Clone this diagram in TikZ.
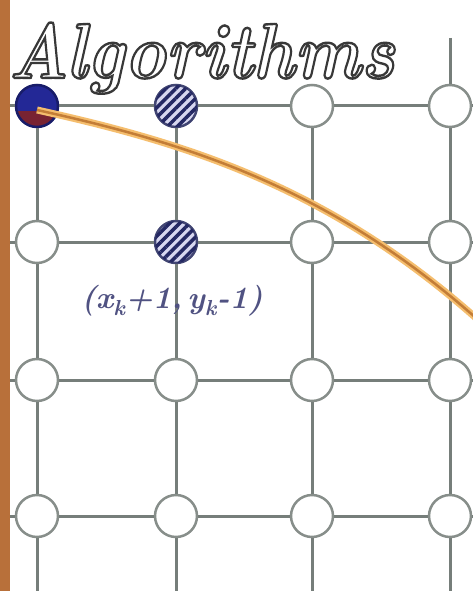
\documentclass[tikz,border=0pt]{standalone}
\usepackage{fontspec}
\usetikzlibrary{patterns.meta}
\definecolor{gridc}{RGB}{118,126,122}
\definecolor{ringc}{RGB}{135,142,138}
\definecolor{barc}{RGB}{184,112,58}
\definecolor{curveo}{RGB}{245,190,110}
\definecolor{curvei}{RGB}{195,125,55}
\definecolor{navy}{RGB}{40,45,110}
\definecolor{lav}{RGB}{215,215,240}
\definecolor{dotblue}{RGB}{35,40,150}
\definecolor{dotred}{RGB}{120,35,50}
\definecolor{labc}{RGB}{80,82,130}
\begin{document}
\begin{tikzpicture}[x=1pt,y=-1pt,
  gridline/.style={draw=gridc,line width=3pt},
  pt/.style={circle,draw=ringc,line width=2.5pt,fill=white,minimum size=42pt,inner sep=0pt},
  hatchpt/.style={pt,draw=navy!70!gray,fill=lav,postaction={pattern={Lines[angle=45,distance=7pt,line width=3.5pt]},pattern color=navy!90!black}},
  startpt/.style={pt,draw=dotblue!70!black,fill=dotblue,
    path picture={\fill[dotred] (path picture bounding box.south west) rectangle ([yshift=-5pt]path picture bounding box.east);}}]
\useasboundingbox (0,0) rectangle (473,591);
\fill[white] (0,0) rectangle (473,591);
\fill[barc] (0,0) rectangle (10,591);
% nodes
\node[startpt] (n11) at (37,106) {};
\node[hatchpt] (n21) at (176,106) {};
\node[pt] (n31) at (312,106) {};
\node[pt] (n41) at (450,106) {};
\node[pt] (n12) at (37,242) {};
\node[hatchpt] (n22) at (176,242) {};
\node[pt] (n32) at (312,242) {};
\node[pt] (n42) at (450,242) {};
\node[pt] (n13) at (37,380) {};
\node[pt] (n23) at (176,380) {};
\node[pt] (n33) at (312,380) {};
\node[pt] (n43) at (450,380) {};
\node[pt] (n14) at (37,516) {};
\node[pt] (n24) at (176,516) {};
\node[pt] (n34) at (312,516) {};
\node[pt] (n44) at (450,516) {};
% free ends
\foreach \r/\y in {1/106,2/242,3/380,4/516}{
  \coordinate (L\r) at (10,\y);
  \coordinate (R\r) at (473,\y);
}
\foreach \c/\x in {1/37,2/176,3/312,4/450}{
  \coordinate (B\c) at (\x,591);
}
\coordinate (T4) at (450,38);
% edges
\foreach \r in {1,2,3,4}{
  \draw[gridline] (L\r) -- (n1\r);
  \draw[gridline] (n1\r) -- (n2\r);
  \draw[gridline] (n2\r) -- (n3\r);
  \draw[gridline] (n3\r) -- (n4\r);
  \draw[gridline] (n4\r) -- (R\r);
}
\foreach \c in {1,2,3,4}{
  \draw[gridline] (n\c1) -- (n\c2);
  \draw[gridline] (n\c2) -- (n\c3);
  \draw[gridline] (n\c3) -- (n\c4);
  \draw[gridline] (n\c4) -- (B\c);
}
\draw[gridline] (T4) -- (n41);
% curve
\coordinate (cs) at (37,110);
\coordinate (ce) at (476,318);
\draw[curveo,line width=7pt] (cs) .. controls (187,143) and (328,187) .. (ce);
\draw[curvei,line width=2.5pt] (cs) .. controls (187,143) and (328,187) .. (ce);
% label
\node[text=labc,font=\fontsize{31}{31}\selectfont\itshape\bfseries,inner sep=0pt] (lab) at (172,301) {(x\textsubscript{k}+1,\,y\textsubscript{k}-1)};
% title
\node[anchor=base west,inner sep=0pt,text=white,xscale=0.9,transform shape,font=\fontsize{78}{78}\selectfont\bfseries\itshape] (title) at (8,78)
  {\special{pdf:code 0.22 0.22 0.22 RG 2.4 w 2 Tr}Algorithms\special{pdf:code 0 Tr}};
\end{tikzpicture}
\end{document}
